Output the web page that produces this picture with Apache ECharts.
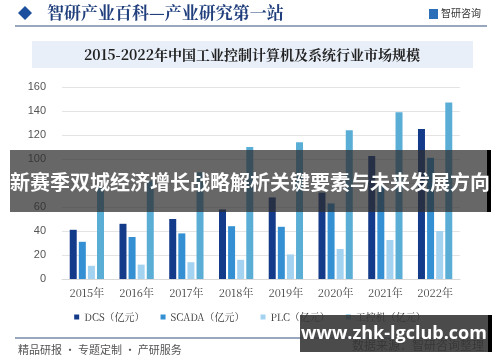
<!DOCTYPE html>
<html><head><meta charset="utf-8">
<script src="https://cdn.jsdelivr.net/npm/echarts@6/dist/echarts.min.js"></script>
<style>html,body{margin:0;padding:0;background:#fff}#c{width:500px;height:362px}</style>
</head><body><div id="c"></div>
<script>
const categories = ['2015年','2016年','2017年','2018年','2019年','2020年','2021年','2022年'];
const dcs   = [41, 46, 50, 58, 68, 72, 102.5, 125];
const scada = [31, 35, 38, 44, 43.5, 63, 78, 101];
const plc   = [11, 12, 14, 16, 20.5, 25, 32.5, 40];
const ipc   = [76, 82, 89, 110, 114, 124, 139, 147];
const seriesNames = ['DCS（亿元）','SCADA（亿元）','PLC（亿元）','工控机（亿元）'];
const colors = ['#143a8a','#3490d2','#a4d3f2','#5aaed6'];

const chart = echarts.init(document.getElementById('c'), null, {renderer:'canvas'});
const serif = '"Noto Serif CJK SC","Noto Sans CJK SC",serif';
const mk = (name, data, color) => ({
  name, type:'bar', data, barWidth:7, barGap:'30%', itemStyle:{color}
});
chart.setOption({
  animation:false,
  backgroundColor:'#fff',
  grid:{left:62, right:40, top:87, bottom:83},
  xAxis:{type:'category', data:categories,
    axisLine:{lineStyle:{color:'#d9d9d9'}}, axisTick:{show:false},
    axisLabel:{color:'#444', fontSize:11, margin:8, fontFamily:serif}},
  yAxis:{type:'value', min:0, max:160, interval:20,
    axisLine:{show:false}, axisTick:{show:false},
    splitLine:{lineStyle:{color:'#e4e4e4'}},
    axisLabel:{color:'#555', fontSize:11, margin:16, fontFamily:'Arial, "Liberation Sans", sans-serif'}},
  legend:{top:307, left:'center', itemWidth:5, itemHeight:5, itemGap:16, icon:'rect',
    textStyle:{fontSize:10, color:'#333', fontFamily:serif},
    data:seriesNames},
  series:[mk(seriesNames[0],dcs,colors[0]), mk(seriesNames[1],scada,colors[1]),
          mk(seriesNames[2],plc,colors[2]), mk(seriesNames[3],ipc,colors[3])],
  graphic:[
    {type:'polygon', shape:{points:[[25,6],[32,13],[25,20],[18,13]]}, style:{fill:'#1d4f9f'}},
    {type:'text', left:47, top:4, style:{text:'智研产业百科—产业研究第一站', fontSize:17, fontWeight:'bold', fill:'#203f7c', fontFamily:serif}},
    {type:'rect', shape:{x:429,y:9,width:9,height:10}, style:{fill:'#2a6fb8'}},
    {type:'text', left:441, top:8, style:{text:'智研咨询', fontSize:10, fill:'#333', fontFamily:'"Noto Sans CJK SC",sans-serif'}},
    {type:'line', shape:{x1:15,y1:26,x2:487,y2:26}, style:{stroke:'#34507f', lineWidth:1}},
    {type:'rect', shape:{x:32,y:41,width:441,height:27}, style:{fill:'#e9eff8'}},
    {type:'text', x:252, y:55, style:{text:'2015-2022年中国工业控制计算机及系统行业市场规模', fontSize:14, fontWeight:'bold', fill:'#222', align:'center', verticalAlign:'middle', fontFamily:serif}},
    {type:'line', shape:{x1:15,y1:338,x2:487,y2:338}, style:{stroke:'#34507f', lineWidth:1}},
    {type:'text', left:18, top:344, style:{text:'精品研报 · 专题定制 · 产研服务', fontSize:11, fill:'#555', fontFamily:'"Noto Sans CJK SC",sans-serif'}},
    {type:'text', right:16, top:339, style:{text:'数据来源：智研咨询整理', fontSize:12, fill:'#333', fontFamily:'"Noto Sans CJK SC",sans-serif'}},
    {type:'rect', z:100, shape:{x:10,y:150,width:478,height:62}, style:{fill:'rgba(45,45,45,0.72)'}},
    {type:'rect', z:100, shape:{x:487,y:150,width:4,height:62}, style:{fill:'#000'}},
    {type:'text', z:101, x:250, y:182, style:{text:'新赛季双城经济增长战略解析关键要素与未来发展方向', fontSize:20, fontWeight:'bold', fill:'#fff', align:'center', verticalAlign:'middle', fontFamily:'"Noto Sans CJK SC",sans-serif'}},
    {type:'rect', z:100, shape:{x:300,y:315,width:188,height:37}, style:{fill:'rgba(55,55,55,0.9)'}},
    {type:'rect', z:100, shape:{x:488,y:315,width:4,height:37}, style:{fill:'#000'}},
    {type:'text', z:101, x:394, y:334, style:{text:'www.zhk-lgclub.com', fontSize:18, fontWeight:'bold', fill:'#fff', align:'center', verticalAlign:'middle', fontFamily:'"Open Sans", "DejaVu Sans", sans-serif'}}
  ]
});
</script></body></html>
